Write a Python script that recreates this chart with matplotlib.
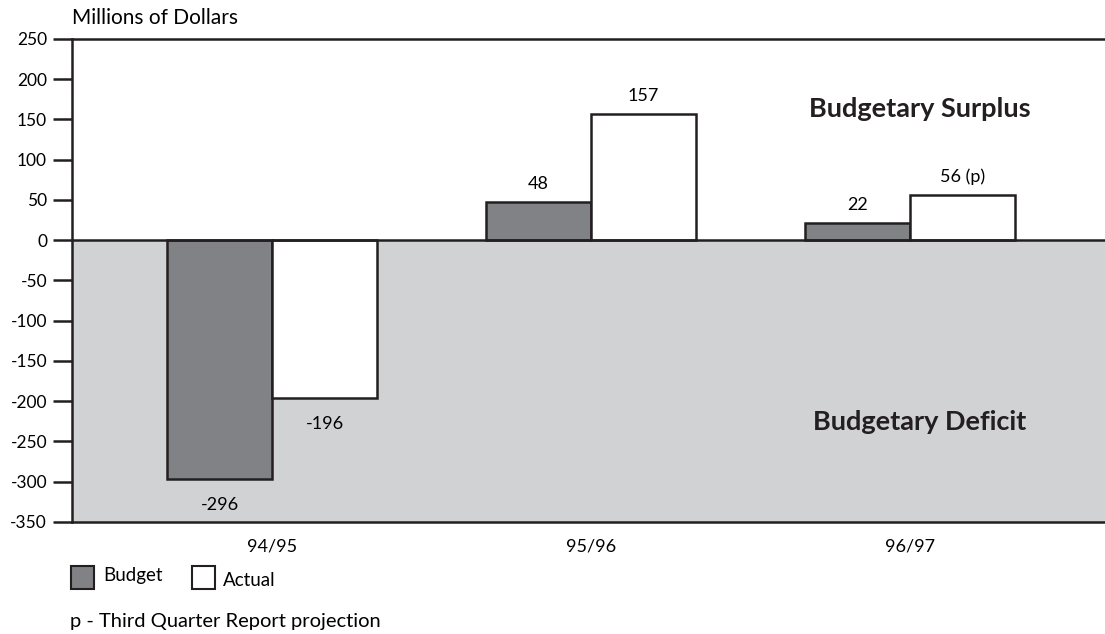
import matplotlib.pyplot as plt
from matplotlib.patches import Rectangle

plt.rcParams['font.family'] = ['Lato', 'DejaVu Sans']
plt.rcParams['axes.unicode_minus'] = False

years = ['94/95', '95/96', '96/97']
budget = [-296, 48, 22]
actual = [-196, 157, 56]
actual_labels = ['-196', '157', '56 (p)']

fig = plt.figure(figsize=(11.05, 6.34), dpi=100)
ax = fig.add_axes([0.0652, 0.1767, 0.9348, 0.7618])

x = range(len(years))
w = 0.329
ax.set_xlim(-0.627, 2.611)
ax.set_ylim(-350, 250)

# deficit zone shading
ax.axhspan(-350, 0, color='#d1d2d4', zorder=0, lw=0)


def put_label(xpos, val, txt):
    off = 7 if val > 0 else -13
    ax.annotate(txt, (xpos, val), xytext=(0, off), textcoords='offset points',
                ha='center', va='bottom' if val > 0 else 'top', fontsize=13)


for i in x:
    ax.bar(i - w / 2, budget[i], w, color='#808285', edgecolor='#231f20', lw=1.8, zorder=2)
    ax.bar(i + w / 2, actual[i], w, color='white', edgecolor='#231f20', lw=1.8, zorder=2)
    put_label(i - w / 2, budget[i], str(budget[i]))
    put_label(i + w / 2, actual[i], actual_labels[i])

ax.axhline(0, color='#231f20', lw=1.8, zorder=3)

ax.text(2.03, 163, 'Budgetary Surplus', fontsize=19.5, fontweight='bold', ha='center', va='center',
        color='#231f20')
ax.text(2.03, -226, 'Budgetary Deficit', fontsize=19.5, fontweight='bold', ha='center', va='center',
        color='#231f20')

ax.set_xticks(list(x))
ax.set_xticklabels(years, fontsize=13)
ax.tick_params(axis='x', length=0, pad=12)
ax.set_yticks(range(-350, 251, 50))
ax.tick_params(axis='y', length=14, width=1.8, labelsize=12.5, pad=4, color='#231f20')
ax.spines['right'].set_visible(False)
for s in ['left', 'top', 'bottom']:
    ax.spines[s].set_linewidth(1.8)
    ax.spines[s].set_color('#231f20')
    ax.spines[s].set_zorder(4)

fig.text(72 / 1105, 1 - 18 / 634, 'Millions of Dollars', fontsize=15, va='center')

# legend
fig.patches.append(Rectangle((71 / 1105, 1 - 589 / 634), 23 / 1105, 23 / 634, transform=fig.transFigure,
                             facecolor='#808285', edgecolor='#231f20', lw=1.5))
fig.text(103 / 1105, 1 - 575 / 634, 'Budget', fontsize=13.5, va='center')
fig.patches.append(Rectangle((192 / 1105, 1 - 589 / 634), 23 / 1105, 23 / 634, transform=fig.transFigure,
                             facecolor='white', edgecolor='#231f20', lw=1.5))
fig.text(223 / 1105, 1 - 581 / 634, 'Actual', fontsize=13.5, va='center')

fig.text(70 / 1105, 1 - 622 / 634, 'p - Third Quarter Report projection', fontsize=14.5, va='center')

fig.savefig('out.png', dpi=100)
